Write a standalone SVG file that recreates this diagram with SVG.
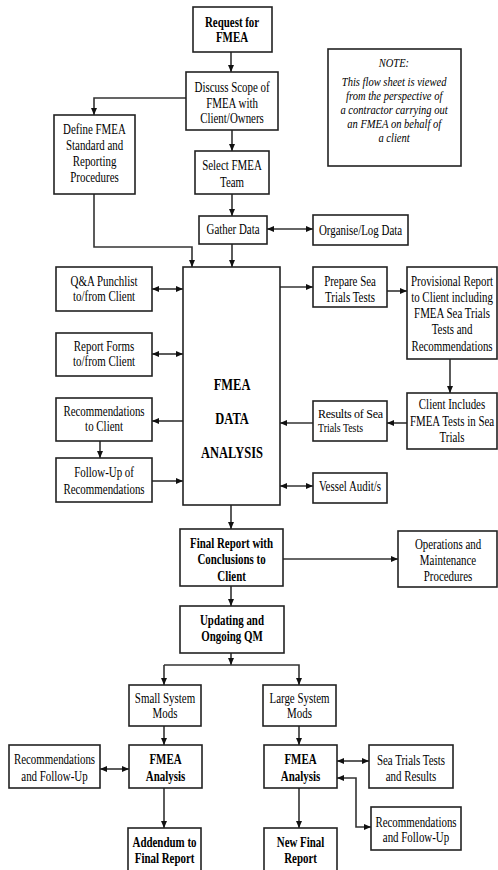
<svg xmlns="http://www.w3.org/2000/svg" width="498" height="870" viewBox="0 0 498 870">
<defs>
<marker id="a" viewBox="0 0 10 10" refX="10" refY="5" markerWidth="7" markerHeight="6" preserveAspectRatio="none" orient="auto-start-reverse" markerUnits="userSpaceOnUse"><path d="M0,0 L10,5 L0,10z" fill="#111"/></marker>
</defs>
<style>
.box{fill:#fff;stroke:#222;stroke-width:1.6}
.c{fill:none;stroke:#333;stroke-width:1.6;marker-end:url(#a)}
.d{marker-start:url(#a)}
text{font-family:"Liberation Serif","Times New Roman",serif;font-size:14px;fill:#000;text-anchor:middle;transform-box:fill-box;transform-origin:center;transform:scaleX(0.78)}
.b{font-weight:bold}
.big{font-weight:bold;font-size:16px}
.note{font-style:italic;font-size:13.5px}
.left{text-anchor:start;transform:none;font-size:12px}
</style>
<rect width="498" height="870" fill="#fff"/>
<g id="connectors">
<path class="c" d="M231,52V72"/>
<path class="c" d="M186,98H94V115"/>
<path class="c" d="M232,130V151"/>
<path class="c" d="M232,194V216"/>
<path class="c d" d="M267,229H313"/>
<path class="c" d="M94,194V247H192V267"/>
<path class="c" d="M232,244V267"/>
<path class="c d" d="M152,289H183"/>
<path class="c d" d="M152,354H183"/>
<path class="c" d="M183,421H152"/>
<path class="c" d="M100,441V458"/>
<path class="c" d="M152,481H183"/>
<path class="c" d="M280,287H313"/>
<path class="c" d="M387,291H407"/>
<path class="c" d="M450,359V393"/>
<path class="c" d="M407,423H387"/>
<path class="c" d="M313,423H280"/>
<path class="c d" d="M280,486H313"/>
<path class="c" d="M231,505V529"/>
<path class="c" d="M283,559H398"/>
<path class="c" d="M231,586V606"/>
<path class="c" d="M231,653V665"/>
<path class="c" d="M164,665H299V685"/>
<path class="c" d="M164,665V685"/>
<path class="c" d="M164,726V745"/>
<path class="c" d="M299,726V745"/>
<path class="c d" d="M100,769H129"/>
<path class="c" d="M164,788V828"/>
<path class="c" d="M299,788V828"/>
<path class="c d" d="M337,761H369"/>
<path class="c d" d="M337,778H356V827H371"/>
</g>
<g id="request"><rect class="box" x="193" y="7" width="79" height="45"/><text class="b" x="232" y="27">Request for</text><text class="b" x="232" y="42">FMEA</text></g>
<g id="note"><rect class="box" x="328" y="49" width="133" height="117"/><text class="note" x="394" y="67">NOTE:</text><text class="note" x="394" y="86">This flow sheet is viewed</text><text class="note" x="394" y="100">from the perspective of</text><text class="note" x="394" y="114">a contractor carrying out</text><text class="note" x="394" y="128">an FMEA on behalf of</text><text class="note" x="394" y="142">a client</text></g>
<g id="discuss"><rect class="box" x="186" y="72" width="92" height="58"/><text x="232" y="92">Discuss Scope of</text><text x="232" y="108">FMEA with</text><text x="232" y="123">Client/Owners</text></g>
<g id="define"><rect class="box" x="54" y="115" width="81" height="79"/><text x="94.5" y="134">Define FMEA</text><text x="94.5" y="150">Standard and</text><text x="94.5" y="166">Reporting</text><text x="94.5" y="182">Procedures</text></g>
<g id="select"><rect class="box" x="195" y="151" width="74" height="43"/><text x="232" y="170">Select FMEA</text><text x="232" y="187">Team</text></g>
<g id="gather"><rect class="box" x="199" y="216" width="68" height="28"/><text x="233" y="234">Gather Data</text></g>
<g id="organise"><rect class="box" x="313" y="215" width="95" height="30"/><text x="360.5" y="235">Organise/Log Data</text></g>
<g id="analysis"><rect class="box" x="183" y="267" width="97" height="238"/><text class="big" x="232" y="390">FMEA</text><text class="big" x="232" y="424">DATA</text><text class="big" x="232" y="458">ANALYSIS</text></g>
<g id="qa"><rect class="box" x="56" y="267" width="96" height="44"/><text x="104" y="286">Q&amp;A Punchlist</text><text x="104" y="301">to/from Client</text></g>
<g id="forms"><rect class="box" x="56" y="333" width="96" height="43"/><text x="104" y="351">Report Forms</text><text x="104" y="366">to/from Client</text></g>
<g id="reco"><rect class="box" x="56" y="398" width="96" height="43"/><text x="104" y="416">Recommendations</text><text x="104" y="431">to Client</text></g>
<g id="followup"><rect class="box" x="56" y="458" width="96" height="44"/><text x="104" y="477">Follow-Up of</text><text x="104" y="494">Recommendations</text></g>
<g id="prepare"><rect class="box" x="313" y="267" width="74" height="40"/><text x="350" y="286">Prepare Sea</text><text x="350" y="302">Trials Tests</text></g>
<g id="provisional"><rect class="box" x="407" y="267" width="90" height="92"/><text x="452" y="286">Provisional Report</text><text x="452" y="302">to Client including</text><text x="452" y="318">FMEA Sea Trials</text><text x="452" y="334">Tests and</text><text x="452" y="351">Recommendations</text></g>
<g id="clientincl"><rect class="box" x="407" y="393" width="90" height="56"/><text x="452" y="409">Client Includes</text><text x="452" y="426">FMEA Tests in Sea</text><text x="452" y="442">Trials</text></g>
<g id="results"><rect class="box" x="313" y="401" width="74" height="40"/><text class="left" x="318" y="418" textLength="65" lengthAdjust="spacing">Results  of  Sea</text><text class="left" x="318" y="432" textLength="45" lengthAdjust="spacingAndGlyphs">Trials Tests</text></g>
<g id="vessel"><rect class="box" x="313" y="473" width="74" height="30"/><text x="350" y="491">Vessel Audit/s</text></g>
<g id="final"><rect class="box" x="180" y="529" width="103" height="57"/><text class="b" x="231.5" y="548">Final Report with</text><text class="b" x="231.5" y="564">Conclusions to</text><text class="b" x="231.5" y="581">Client</text></g>
<g id="operations"><rect class="box" x="398" y="531" width="99" height="56"/><text x="448" y="549">Operations and</text><text x="448" y="565">Maintenance</text><text x="448" y="581">Procedures</text></g>
<g id="updating"><rect class="box" x="180" y="606" width="104" height="47"/><text class="b" x="232" y="625">Updating and</text><text class="b" x="232" y="641">Ongoing QM</text></g>
<g id="small"><rect class="box" x="129" y="685" width="72" height="41"/><text x="165" y="703">Small System</text><text x="165" y="718">Mods</text></g>
<g id="large"><rect class="box" x="263" y="685" width="73" height="41"/><text x="299.5" y="703">Large System</text><text x="299.5" y="718">Mods</text></g>
<g id="fmeasmall"><rect class="box" x="129" y="745" width="73" height="43"/><text class="b" x="165.5" y="764">FMEA</text><text class="b" x="165.5" y="781">Analysis</text></g>
<g id="fmealarge"><rect class="box" x="264" y="745" width="73" height="43"/><text class="b" x="300.5" y="764">FMEA</text><text class="b" x="300.5" y="781">Analysis</text></g>
<g id="recleft"><rect class="box" x="9" y="745" width="91" height="43"/><text x="54.5" y="764">Recommendations</text><text x="54.5" y="781">and Follow-Up</text></g>
<g id="seatrials"><rect class="box" x="369" y="745" width="84" height="43"/><text x="411" y="765">Sea Trials Tests</text><text x="411" y="781">and Results</text></g>
<g id="recright"><rect class="box" x="371" y="807" width="90" height="43"/><text x="416" y="827">Recommendations</text><text x="416" y="842">and Follow-Up</text></g>
<g id="addendum"><rect class="box" x="128" y="828" width="73" height="50"/><text class="b" x="164.5" y="847">Addendum to</text><text class="b" x="164.5" y="863">Final Report</text></g>
<g id="newfinal"><rect class="box" x="264" y="828" width="73" height="50"/><text class="b" x="300.5" y="847">New Final</text><text class="b" x="300.5" y="863">Report</text></g>
</svg>
